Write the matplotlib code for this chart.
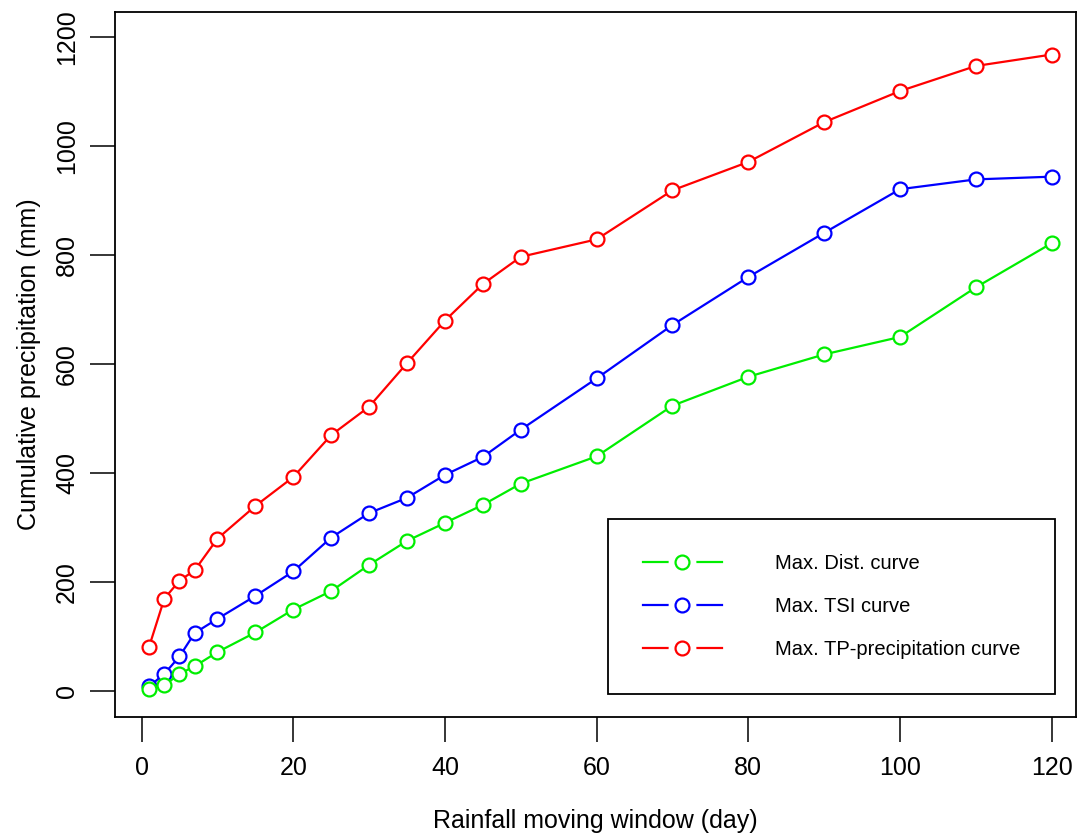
import matplotlib
matplotlib.use('Agg')
import matplotlib.pyplot as plt
from matplotlib.lines import Line2D
from matplotlib.legend_handler import HandlerTuple

plt.rcParams['font.family'] = ['Liberation Sans', 'DejaVu Sans']

# rainfall moving window (day)
window = [1, 3, 5, 7, 10, 15, 20, 25, 30, 35, 40, 45, 50, 60, 70, 80, 90, 100, 110, 120]

# cumulative precipitation (mm)
max_dist = [5, 11, 32, 46, 72, 108, 150, 184, 232, 276, 309, 342, 381, 431, 524, 577, 618, 650, 741, 822]
max_tsi = [9, 32, 64, 107, 133, 175, 220, 282, 327, 355, 397, 430, 480, 574, 672, 760, 841, 921, 939, 944]
max_tp = [82, 170, 203, 222, 280, 340, 393, 470, 522, 602, 680, 747, 797, 829, 919, 971, 1044, 1101, 1147, 1168]

series = [
    ('Max. TP-precipitation curve', max_tp, '#ff0000'),
    ('Max. TSI curve', max_tsi, '#0000ff'),
    ('Max. Dist. curve', max_dist, '#00ee00'),
]
legend_order = ['Max. Dist. curve', 'Max. TSI curve', 'Max. TP-precipitation curve']

fig = plt.figure(figsize=(10.78, 8.36), dpi=100)
ax = fig.add_axes([115 / 1078, 1 - 717 / 836, 961 / 1078, 705 / 836])

handles = {}
for name, vals, col in series:
    ax.plot(window, vals, color=col, lw=1.6, marker='o', ms=10,
            mfc='white', mec=col, mew=1.6)
    # legend handle: line with a gap around the open circle (R type="b")
    h_line = Line2D([], [], color=col, lw=1.6)
    h_gap = Line2D([], [], ls='none', marker='o', ms=19, mfc='white', mec='white')
    h_mark = Line2D([], [], ls='none', marker='o', ms=10, mfc='white', mec=col, mew=1.6)
    handles[name] = (h_line, h_gap, h_mark)

ax.set_xlim(-3.5, 123.2)
ax.set_ylim(-47, 1246)
ax.set_xticks([0, 20, 40, 60, 80, 100, 120])
ax.set_yticks([0, 200, 400, 600, 800, 1000, 1200])
ax.tick_params(axis='both', direction='out', length=18, width=1.1, labelsize=18)
ax.tick_params(axis='x', pad=10)
ax.tick_params(axis='y', pad=8)
for lab in ax.get_yticklabels():
    lab.set_rotation(90)
    lab.set_va('center')
for sp in ax.spines.values():
    sp.set_linewidth(1.3)

ax.set_xlabel('Rainfall moving window (day)', fontsize=18, labelpad=21)
ax.set_ylabel('Cumulative precipitation (mm)', fontsize=18, labelpad=10)

leg = ax.legend([handles[n] for n in legend_order], legend_order,
                handler_map={tuple: HandlerTuple(ndivide=1)},
                loc='lower right', bbox_to_anchor=(0.978, 0.0326),
                borderaxespad=0, fontsize=14.5, handlelength=3.93, handletextpad=2.64,
                labelspacing=1.2, borderpad=1.72, fancybox=False, framealpha=1,
                edgecolor='black')
leg.get_frame().set_linewidth(1.3)

fig.savefig('out.png', dpi=100)
